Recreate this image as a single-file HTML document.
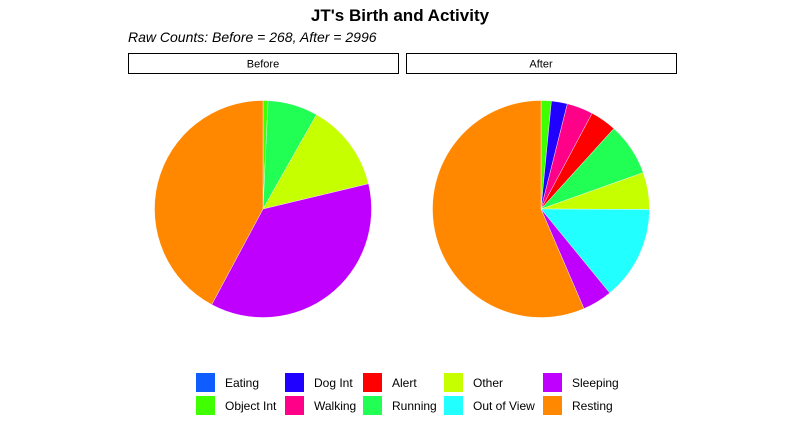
<!DOCTYPE html>
<html><head><meta charset="utf-8"><style>
body{margin:0;background:#fff;font-family:"Liberation Sans",sans-serif}
svg{display:block}
</style></head><body>
<svg id="c" width="800" height="431">
<text x="400" y="21" text-anchor="middle" font-size="17" font-weight="bold">JT's Birth and Activity</text>
<text x="128" y="42" font-size="14" font-style="italic">Raw Counts: Before = 268, After = 2996</text>
<rect x="128.5" y="53.5" width="270" height="20" fill="#fff" stroke="#000"/>
<text x="263" y="67.5" text-anchor="middle" font-size="11">Before</text>
<rect x="406.5" y="53.5" width="270" height="20" fill="#fff" stroke="#000"/>
<text x="541" y="67.5" text-anchor="middle" font-size="11">After</text>
<g id="pies"></g>
<g id="legend"></g>
</svg>
<script>
const categories=["Eating","Object Int","Dog Int","Walking","Alert","Running","Other","Out of View","Sleeping","Resting"];
const colors=["#0f5cff","#3fff00","#2000ff","#ff0088","#ff0000","#21ff55","#c6ff00","#21ffff","#bf00ff","#ff8800"];
const beforeValues=[0,2,0,0,0,20,35,0,98,113];
const afterValues=[0,46,71,117,117,235,165,420,133,1692];
const NS="http://www.w3.org/2000/svg";
const pies=document.getElementById('pies');
function drawPie(vals,cx,cy,r,name){
  const tot=vals.reduce((a,b)=>a+b,0);let a0=0;
  vals.forEach((v,i)=>{
    if(v<=0)return;
    const a1=a0+v/tot*2*Math.PI;
    const x0=cx+r*Math.sin(a0),y0=cy-r*Math.cos(a0),x1=cx+r*Math.sin(a1),y1=cy-r*Math.cos(a1);
    const p=document.createElementNS(NS,'path');
    p.setAttribute('d',`M${cx},${cy}L${x0},${y0}A${r},${r} 0 ${a1-a0>Math.PI?1:0} 1 ${x1},${y1}Z`);
    p.setAttribute('fill',colors[i]);p.setAttribute('stroke','#fff');p.setAttribute('stroke-width','0.4');
    
    
    pies.appendChild(p);a0=a1;
  });
}
drawPie(beforeValues,263,209,108.5,'before');
drawPie(afterValues,541,209,108.5,'after');
const lg=document.getElementById('legend');
const colX=[196,285,363,444,543];
categories.forEach((c,i)=>{
  const col=Math.floor(i/2),row=i%2;const x=colX[col],y=373+row*23;
  const r=document.createElementNS(NS,'rect');
  r.setAttribute('x',x);r.setAttribute('y',y);r.setAttribute('width',19);r.setAttribute('height',19);r.setAttribute('fill',colors[i]);
  
  
  lg.appendChild(r);
  const t=document.createElementNS(NS,'text');
  t.setAttribute('x',x+29);t.setAttribute('y',y+14);t.setAttribute('font-size','12');t.textContent=c;
  
  
  lg.appendChild(t);
});
</script>
</body></html>
